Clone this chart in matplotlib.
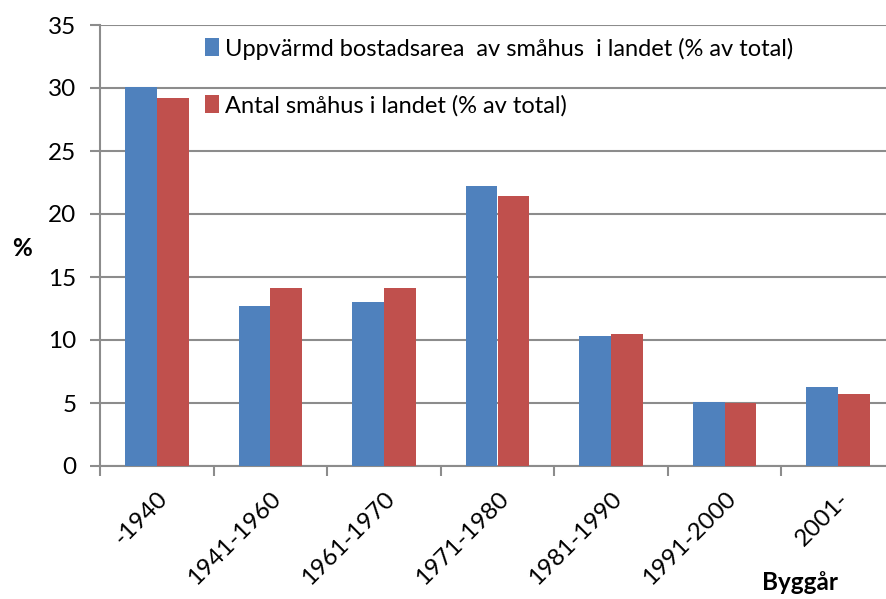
import numpy as np
import matplotlib.pyplot as plt

plt.rcParams['font.family'] = ['Lato', 'DejaVu Sans']

# data
categories = ['-1940', '1941-1960', '1961-1970', '1971-1980', '1981-1990', '1991-2000', '2001-']
area_share = [30.1, 12.7, 13.0, 22.2, 10.3, 5.1, 6.3]
count_share = [29.2, 14.1, 14.1, 21.4, 10.5, 5.0, 5.7]
series_labels = ['Uppvärmd bostadsarea  av småhus  i landet (% av total)',
                 'Antal småhus i landet (% av total)']

W, H = 887, 599
fig = plt.figure(figsize=(W / 100, H / 100), dpi=100)
# plot area runs slightly past the right edge, as in the reference
ax = fig.add_axes([100 / W, 1 - 466 / H, 795 / W, (466 - 25) / H])

x = np.arange(len(categories))
bw = 0.28
ax.bar(x - bw / 2, area_share, bw, color='#4F81BD', label=series_labels[0], zorder=3)
ax.bar(x + bw / 2, count_share, bw, color='#C0504D', label=series_labels[1], zorder=3)

ax.set_xlim(-0.5, len(categories) - 0.5)
ax.set_ylim(0, 35)
ax.set_yticks(range(0, 36, 5))
ax.yaxis.grid(True, color='#8C8C8C', linewidth=1.5, zorder=0)
ax.set_axisbelow(True)

for s in ['top', 'right']:
    ax.spines[s].set_visible(False)
for s in ['left', 'bottom']:
    ax.spines[s].set_color('#8C8C8C')
    ax.spines[s].set_linewidth(1.5)

ax.set_xticks(x)
ax.set_xticklabels(categories, rotation=45, ha='right', rotation_mode='anchor', fontsize=17.5)
ax.set_xticks(np.arange(-0.5, len(categories), 1), minor=True)
ax.tick_params(axis='x', which='major', length=0, pad=16)
ax.tick_params(axis='x', which='minor', length=7, width=1.5, color='#8C8C8C')
ax.tick_params(axis='y', length=7, width=1.5, color='#8C8C8C', labelsize=17.5, pad=10)

fig.text(22 / W, 1 - 248 / H, '%', fontsize=17.5, fontweight='bold', ha='center', va='center')
fig.text(800 / W, 1 - 583 / H, 'Byggår', fontsize=17.5, fontweight='bold', ha='center', va='center')

ax.legend(loc='upper left', bbox_to_anchor=(84 / 795, 1.02), frameon=False, fontsize=17,
          handlelength=0.6, handleheight=0.8, handletextpad=0.25, labelspacing=1.5)

fig.savefig('out.png', dpi=100)
